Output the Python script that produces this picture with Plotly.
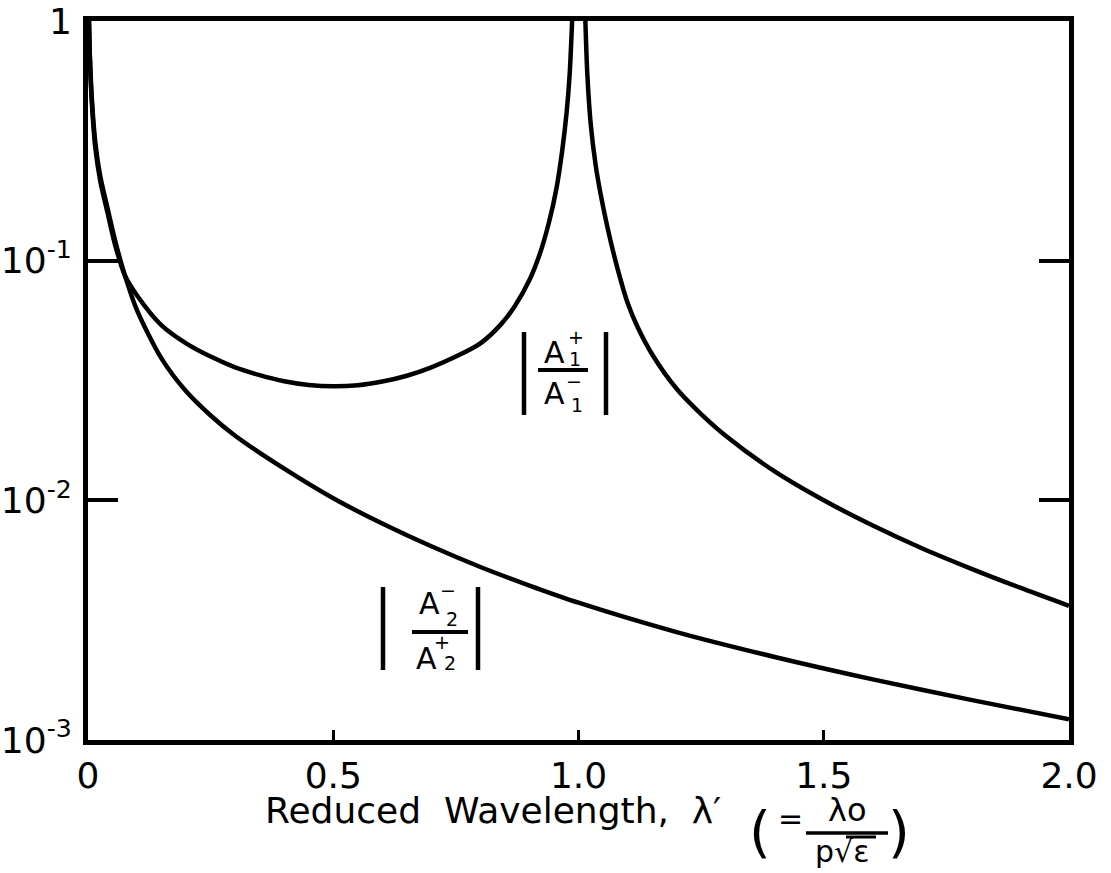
import plotly.graph_objects as go

# |A1+/A1-| : branch below the resonance at lambda' = 1
a1_left_x = [0.002, 0.004, 0.008, 0.015, 0.025, 0.04, 0.055, 0.075, 0.1, 0.15, 0.2, 0.25,
             0.3, 0.35, 0.4, 0.45, 0.5, 0.55, 0.6, 0.65, 0.7, 0.75, 0.8, 0.84, 0.87,
             0.9, 0.92, 0.94, 0.955, 0.967, 0.976, 0.982, 0.987]
a1_left_y = [1.0, 0.68, 0.45, 0.295, 0.215, 0.158, 0.117, 0.087, 0.0716, 0.0537, 0.0452, 0.0398,
             0.0359, 0.0333, 0.0314, 0.0303, 0.0299, 0.0302, 0.0313, 0.0331, 0.0359, 0.0398,
             0.0452, 0.0537, 0.0646, 0.083, 0.105, 0.145, 0.2, 0.29, 0.42, 0.6, 1.0]

# |A1+/A1-| : branch above the resonance
a1_right_x = [1.014, 1.018, 1.025, 1.035, 1.045, 1.06, 1.08, 1.1, 1.12, 1.15, 1.2, 1.25, 1.3,
              1.4, 1.5, 1.6, 1.7, 1.8, 1.9, 2.0]
a1_right_y = [1.0, 0.6, 0.37, 0.25, 0.19, 0.135, 0.092, 0.0668, 0.0531, 0.0407, 0.0292,
              0.0229, 0.0186, 0.0132, 0.0100, 0.00785, 0.00631, 0.00519, 0.00432, 0.00363]

# |A2-/A2+|
a2_x = [0.002, 0.004, 0.008, 0.015, 0.025, 0.04, 0.055, 0.075, 0.1, 0.15, 0.2, 0.25, 0.3,
        0.4, 0.5, 0.6, 0.7, 0.8, 0.9, 1.0, 1.2, 1.4, 1.6, 1.8, 2.0]
a2_y = [1.0, 0.7, 0.47, 0.31, 0.225, 0.165, 0.122, 0.087, 0.062, 0.039, 0.0285, 0.0226,
        0.0186, 0.01355, 0.0102, 0.0080, 0.00643, 0.00527, 0.00441, 0.00374, 0.00282,
        0.00222, 0.00179, 0.00147, 0.00122]

x_ticks = [0, 0.5, 1.0, 1.5, 2.0]
x_tick_text = ["0", "0.5", "1.0", "1.5", "2.0"]
y_ticks = [1e-3, 1e-2, 1e-1, 1]
y_tick_text = ["10<sup>-3</sup>", "10<sup>-2</sup>", "10<sup>-1</sup>", "1"]

W, H = 1111, 873
L, R, T, B = 88, 1069, 21, 740
FONT = "DejaVu Sans"
INK = "black"

fig = go.Figure()
line_style = dict(color=INK, width=4.5, shape="spline", smoothing=0.8)
for xs, ys in [(a1_left_x, a1_left_y), (a1_right_x, a1_right_y), (a2_x, a2_y)]:
    fig.add_trace(go.Scatter(x=xs, y=ys, mode="lines", line=line_style,
                             showlegend=False, hoverinfo="skip"))


def px(x):
    return (x - L) / (R - L)


def py(y):
    return (B - y) / (B - T)


annotations = []
shapes = []


def text(x, y, s, size, anchor="center"):
    annotations.append(dict(x=px(x), y=py(y), xref="paper", yref="paper", text=s,
                            showarrow=False, xanchor=anchor, yanchor="middle",
                            font=dict(family=FONT, size=size, color=INK)))


def rule(x0, y0, x1, y1, w=4):
    shapes.append(dict(type="line", xref="paper", yref="paper", x0=px(x0), y0=py(y0),
                       x1=px(x1), y1=py(y1), line=dict(color=INK, width=w)))


# label |A1+ / A1-|
rule(524, 332, 524, 415, 4.5)
rule(606, 332, 606, 415, 4.5)
rule(538, 370, 588, 370, 4)
text(554, 352, "A", 30)
text(576, 337, "+", 19)
text(575, 359, "1", 19)
text(554, 393, "A", 30)
text(574, 381, "−", 19)
text(577, 405, "1", 19)

# label |A2- / A2+|
rule(383, 587, 383, 670, 4.5)
rule(478, 587, 478, 670, 4.5)
rule(412, 632, 468, 632, 4)
text(429, 603, "A", 30)
text(448, 590, "−", 19)
text(452, 619, "2", 19)
text(426, 658, "A", 30)
text(442, 642, "+", 19)
text(450, 663, "2", 19)

# axis title with the definition of the reduced wavelength
text(263, 810, "Reduced  Wavelength,  λ′", 36, anchor="left")
text(760, 831, "(", 56)
text(790, 818, "=", 30)
text(847, 810, "λo", 32)
rule(806, 833, 888, 833, 3.5)
text(842, 852, "p√ε", 30)
rule(846, 837, 876, 837, 3)
text(899, 831, ")", 56)

fig.update_layout(
    width=W, height=H,
    margin=dict(l=L, r=W - R, t=T, b=H - B, pad=0, autoexpand=False),
    paper_bgcolor="white", plot_bgcolor="white",
    annotations=annotations, shapes=shapes,
    font=dict(family=FONT, color=INK),
)
fig.update_xaxes(
    range=[0, 2], tickvals=x_ticks, ticktext=x_tick_text,
    ticks="inside", ticklen=10, tickwidth=3, tickcolor=INK,
    showline=True, linewidth=5, linecolor=INK, mirror=True,
    showgrid=False, zeroline=False, automargin=False,
    tickfont=dict(family=FONT, size=36, color=INK),
)
fig.update_yaxes(
    type="log", range=[-3, 0], tickvals=y_ticks, ticktext=y_tick_text,
    ticks="inside", ticklen=30, tickwidth=3.5, tickcolor=INK,
    showline=True, linewidth=5, linecolor=INK, mirror="ticks",
    showgrid=False, zeroline=False, ticklabelstandoff=4, automargin=False,
    tickfont=dict(family=FONT, size=36, color=INK),
)

fig.write_html("out.html")
